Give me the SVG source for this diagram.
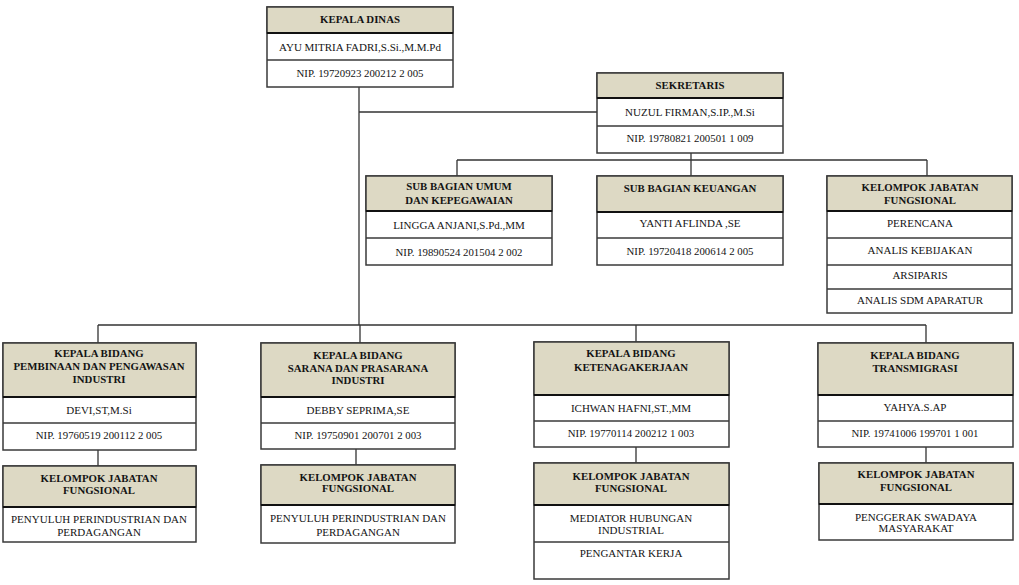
<svg xmlns="http://www.w3.org/2000/svg" width="1019" height="585" viewBox="0 0 1019 585">
<style>
text{font-family:'Liberation Serif','Times New Roman','DejaVu Serif',serif;fill:#141414;text-anchor:middle}
.h{font-weight:bold;font-size:10.8px}
.n{font-size:11px}
.p{font-size:10.8px}
.box{fill:#fff;stroke:#3a3a3a;stroke-width:1.5}
.hd{fill:#ddd9c4;stroke:#3a3a3a;stroke-width:1.5}
.sep{stroke:#3a3a3a;stroke-width:1.3}
.hsep{stroke:#111;stroke-width:2.2}
.con{stroke:#333;stroke-width:1.3;fill:none}
</style>
<rect width="1019" height="585" fill="#fff"/>
<g id="connectors" class="con">
<path d="M359 87V325M359 112H597M691 153V160M457 160H927M457 160V176M691 160V176M927 160V176M98 325H926M98 325V343M360 325V343M636 325V342M926 325V343M98 450V466M356 449V465M636 447V463M926 447V463"/>
</g>
<g id="kepala-dinas">
<rect class="box" x="267" y="7" width="186" height="80"/>
<rect class="hd" x="267" y="7" width="186" height="26"/>
<line class="hsep" x1="267" y1="33" x2="453" y2="33"/>
<line class="sep" x1="267" y1="60" x2="453" y2="60"/>
<text class="h" x="360" y="23">KEPALA DINAS</text>
<text class="n" x="360" y="51">AYU MITRIA FADRI,S.Si.,M.M.Pd</text>
<text class="p" x="360" y="77">NIP. 19720923 200212 2 005</text>
</g>
<g id="sekretaris">
<rect class="box" x="597" y="73" width="186" height="80"/>
<rect class="hd" x="597" y="73" width="186" height="25"/>
<line class="hsep" x1="597" y1="98" x2="783" y2="98"/>
<line class="sep" x1="597" y1="126" x2="783" y2="126"/>
<text class="h" x="690" y="89">SEKRETARIS</text>
<text class="n" x="690" y="116">NUZUL FIRMAN,S.IP.,M.Si</text>
<text class="p" x="690" y="142">NIP. 19780821 200501 1 009</text>
</g>
<g id="sub-bagian-umum">
<rect class="box" x="366" y="176" width="186" height="89"/>
<rect class="hd" x="366" y="176" width="186" height="35"/>
<line class="hsep" x1="366" y1="211" x2="552" y2="211"/>
<line class="sep" x1="366" y1="238" x2="552" y2="238"/>
<text class="h" x="459" y="190">SUB BAGIAN UMUM</text>
<text class="h" x="459" y="204">DAN KEPEGAWAIAN</text>
<text class="n" x="459" y="229">LINGGA ANJANI,S.Pd.,MM</text>
<text class="p" x="459" y="256">NIP. 19890524 201504 2 002</text>
</g>
<g id="sub-bagian-keuangan">
<rect class="box" x="597" y="176" width="186" height="89"/>
<rect class="hd" x="597" y="176" width="186" height="36"/>
<line class="hsep" x1="597" y1="212" x2="783" y2="212"/>
<line class="sep" x1="597" y1="238" x2="783" y2="238"/>
<text class="h" x="690" y="192">SUB BAGIAN KEUANGAN</text>
<text class="n" x="690" y="227">YANTI AFLINDA ,SE</text>
<text class="p" x="690" y="255">NIP. 19720418 200614 2 005</text>
</g>
<g id="kjf-sekretariat">
<rect class="box" x="827" y="176" width="185" height="137"/>
<rect class="hd" x="827" y="176" width="185" height="35"/>
<line class="hsep" x1="827" y1="211" x2="1012" y2="211"/>
<line class="sep" x1="827" y1="238" x2="1012" y2="238"/>
<line class="sep" x1="827" y1="265" x2="1012" y2="265"/>
<line class="sep" x1="827" y1="289" x2="1012" y2="289"/>
<text class="h" x="920" y="191">KELOMPOK JABATAN</text>
<text class="h" x="920" y="204">FUNGSIONAL</text>
<text class="n" x="920" y="227">PERENCANA</text>
<text class="n" x="920" y="254">ANALIS KEBIJAKAN</text>
<text class="n" x="920" y="279">ARSIPARIS</text>
<text class="n" x="920" y="304">ANALIS SDM APARATUR</text>
</g>
<g id="kabid-pembinaan">
<rect class="box" x="3" y="343" width="193" height="107"/>
<rect class="hd" x="3" y="343" width="193" height="54"/>
<line class="hsep" x1="3" y1="397" x2="196" y2="397"/>
<line class="sep" x1="3" y1="423" x2="196" y2="423"/>
<text class="h" x="99" y="357">KEPALA BIDANG</text>
<text class="h" x="99" y="370">PEMBINAAN DAN PENGAWASAN</text>
<text class="h" x="99" y="383">INDUSTRI</text>
<text class="n" x="99" y="414">DEVI,ST,M.Si</text>
<text class="p" x="99" y="439">NIP. 19760519 200112 2 005</text>
</g>
<g id="kabid-sarana">
<rect class="box" x="261" y="343" width="194" height="106"/>
<rect class="hd" x="261" y="343" width="194" height="54"/>
<line class="hsep" x1="261" y1="397" x2="455" y2="397"/>
<line class="sep" x1="261" y1="423" x2="455" y2="423"/>
<text class="h" x="358" y="359">KEPALA BIDANG</text>
<text class="h" x="358" y="372">SARANA DAN PRASARANA</text>
<text class="h" x="358" y="384">INDUSTRI</text>
<text class="n" x="358" y="414">DEBBY SEPRIMA,SE</text>
<text class="p" x="358" y="439">NIP. 19750901 200701 2 003</text>
</g>
<g id="kabid-ketenagakerjaan">
<rect class="box" x="534" y="342" width="195" height="105"/>
<rect class="hd" x="534" y="342" width="195" height="53"/>
<line class="hsep" x1="534" y1="395" x2="729" y2="395"/>
<line class="sep" x1="534" y1="421" x2="729" y2="421"/>
<text class="h" x="631" y="357">KEPALA BIDANG</text>
<text class="h" x="631" y="371">KETENAGAKERJAAN</text>
<text class="n" x="631" y="412">ICHWAN HAFNI,ST.,MM</text>
<text class="p" x="631" y="437">NIP. 19770114 200212 1 003</text>
</g>
<g id="kabid-transmigrasi">
<rect class="box" x="818" y="343" width="195" height="104"/>
<rect class="hd" x="818" y="343" width="195" height="52"/>
<line class="hsep" x1="818" y1="395" x2="1013" y2="395"/>
<line class="sep" x1="818" y1="421" x2="1013" y2="421"/>
<text class="h" x="915" y="359">KEPALA BIDANG</text>
<text class="h" x="915" y="372">TRANSMIGRASI</text>
<text class="n" x="915" y="411">YAHYA.S.AP</text>
<text class="p" x="915" y="437">NIP. 19741006 199701 1 001</text>
</g>
<g id="kjf-pembinaan">
<rect class="box" x="3" y="466" width="193" height="76"/>
<rect class="hd" x="3" y="466" width="193" height="41"/>
<line class="hsep" x1="3" y1="507" x2="196" y2="507"/>
<text class="h" x="99" y="482">KELOMPOK JABATAN</text>
<text class="h" x="99" y="494">FUNGSIONAL</text>
<text class="n" x="99" y="523">PENYULUH PERINDUSTRIAN DAN</text>
<text class="n" x="99" y="536">PERDAGANGAN</text>
</g>
<g id="kjf-sarana">
<rect class="box" x="261" y="465" width="194" height="78"/>
<rect class="hd" x="261" y="465" width="194" height="40"/>
<line class="hsep" x1="261" y1="505" x2="455" y2="505"/>
<text class="h" x="358" y="481">KELOMPOK JABATAN</text>
<text class="h" x="358" y="492">FUNGSIONAL</text>
<text class="n" x="358" y="522">PENYULUH PERINDUSTRIAN DAN</text>
<text class="n" x="358" y="536">PERDAGANGAN</text>
</g>
<g id="kjf-ketenagakerjaan">
<rect class="box" x="534" y="463" width="195" height="116"/>
<rect class="hd" x="534" y="463" width="195" height="42"/>
<line class="hsep" x1="534" y1="505" x2="729" y2="505"/>
<line class="sep" x1="534" y1="542" x2="729" y2="542"/>
<text class="h" x="631" y="480">KELOMPOK JABATAN</text>
<text class="h" x="631" y="492">FUNGSIONAL</text>
<text class="n" x="631" y="522">MEDIATOR HUBUNGAN</text>
<text class="n" x="631" y="534">INDUSTRIAL</text>
<text class="n" x="631" y="557">PENGANTAR KERJA</text>
</g>
<g id="kjf-transmigrasi">
<rect class="box" x="819" y="463" width="194" height="77"/>
<rect class="hd" x="819" y="463" width="194" height="41"/>
<line class="hsep" x1="819" y1="504" x2="1013" y2="504"/>
<text class="h" x="916" y="478">KELOMPOK JABATAN</text>
<text class="h" x="916" y="491">FUNGSIONAL</text>
<text class="n" x="916" y="521">PENGGERAK SWADAYA</text>
<text class="n" x="916" y="532">MASYARAKAT</text>
</g>
</svg>
